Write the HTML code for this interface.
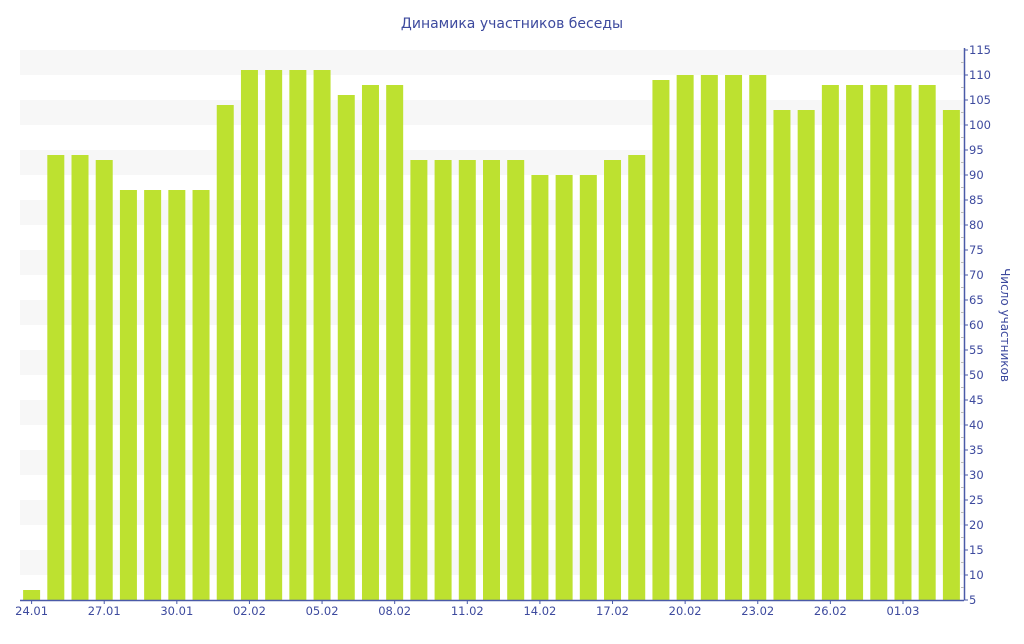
<!DOCTYPE html>
<html><head><meta charset="utf-8"><style>
body{margin:0;background:#fff;width:1024px;height:640px;overflow:hidden;font-family:"DejaVu Sans","Liberation Sans",sans-serif}
</style></head><body>
<svg id="chart" width="1024" height="640" xmlns="http://www.w3.org/2000/svg" font-family="DejaVu Sans, Liberation Sans, sans-serif">
<text x="512" y="28" text-anchor="middle" font-size="14" fill="#3d4a9e">Динамика участников беседы</text>
<g id="bands"></g><g id="bars"></g><g id="axes"></g>
<text transform="translate(1001,325) rotate(90)" text-anchor="middle" font-size="12" fill="#3d4a9e">Число участников</text>
</svg>
<script>
const categories = ["24.01","25.01","26.01","27.01","28.01","29.01","30.01","31.01","01.02","02.02","03.02","04.02","05.02","06.02","07.02","08.02","09.02","10.02","11.02","12.02","13.02","14.02","15.02","16.02","17.02","18.02","19.02","20.02","21.02","22.02","23.02","24.02","25.02","26.02","27.02","28.02","01.03","02.03","03.03"];
const values = [7,94,94,93,87,87,87,87,104,111,111,111,111,106,108,108,93,93,93,93,93,90,90,90,93,94,109,110,110,110,110,103,103,108,108,108,108,108,103];
const yTicks = [5,10,15,20,25,30,35,40,45,50,55,60,65,70,75,80,85,90,95,100,105,110,115];
const xLabelEvery = 3;
const NS="http://www.w3.org/2000/svg";
const L=20,R=964,T=50,B=600,yMin=5,yMax=115;
const step=(R-L)/categories.length;
const bw=17;
function y(v){return B-(v-yMin)/(yMax-yMin)*(B-T);}
function xc(i){return L+step*(i+0.5)-0.5;}
function mk(tag,attrs,parent){const e=document.createElementNS(NS,tag);for(const k in attrs)e.setAttribute(k,attrs[k]);parent.appendChild(e);return e;}
const bands=document.getElementById('bands'),bars=document.getElementById('bars'),axes=document.getElementById('axes');
for(let i=0;i<yTicks.length-1;i++){
  if((yTicks.length-2-i)%2===0){
    const r=mk('rect',{x:L,y:y(yTicks[i+1]),width:R-L,height:y(yTicks[i])-y(yTicks[i+1]),fill:'#f7f7f7'},bands);
    
    
  }
}
values.forEach((v,i)=>{
  const r=mk('rect',{x:xc(i)-bw/2,y:y(Math.max(v,yMin)),width:bw,height:B-y(Math.max(v,yMin)),fill:'#bde130'},bars);
  
  
});
const xa=mk('line',{x1:L,y1:B+0.5,x2:R,y2:B+0.5,stroke:'#4a5aa8','stroke-width':1.5},axes);


const ya=mk('line',{x1:R+0.5,y1:T-2,x2:R+0.5,y2:B,stroke:'#4a5aa8','stroke-width':1.5},axes);


yTicks.forEach((t,i)=>{
  mk('line',{x1:R,y1:y(t),x2:R+4,y2:y(t),stroke:'#4a5aa8'},axes);
  if(i<yTicks.length-1){mk('line',{x1:R-3,y1:y(t+2.5),x2:R,y2:y(t+2.5),stroke:'#bbb'},axes);}
  const tx=mk('text',{x:R+5,y:y(t)+4,'font-size':11.5,fill:'#3d4a9e'},axes);
  tx.textContent=t;
  
  
});
categories.forEach((c,i)=>{
  if(i%xLabelEvery!==0)return;
  mk('line',{x1:xc(i),y1:B,x2:xc(i),y2:B+4,stroke:'#4a5aa8'},axes);
  const tx=mk('text',{x:xc(i),y:B+15,'font-size':11.5,'text-anchor':'middle',fill:'#3d4a9e'},axes);
  tx.textContent=c;
  
  
});
</script>
</body></html>
